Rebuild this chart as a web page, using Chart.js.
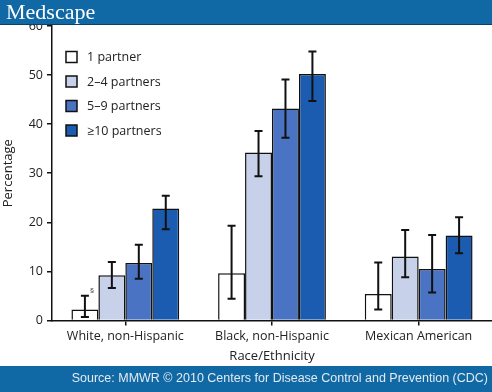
<!DOCTYPE html>
<html><head><meta charset="utf-8">
<script src="https://cdn.jsdelivr.net/npm/chart.js@4.4.0/dist/chart.umd.min.js"></script>
<style>html,body{margin:0;padding:0;background:#fff;}#wrap{width:492px;height:392px;position:relative;}</style>
</head><body><div id="wrap"><canvas id="c" width="492" height="392"></canvas></div>
<script>
const categories = ["White, non-Hispanic", "Black, non-Hispanic", "Mexican American"];
const seriesLabels = ["1 partner", "2\u20134 partners", "5\u20139 partners", "\u226510 partners"];
const onePartner = [2.2, 9.6, 5.4];
const twoToFour = [9.2, 34.2, 13.0];
const fiveToNine = [11.7, 43.2, 10.5];
const tenPlus = [22.8, 50.2, 17.3];
const onePartnerLow = [0.7, 4.4, 2.2];
const onePartnerHigh = [5.0, 19.3, 11.8];
const twoToFourLow = [6.6, 29.4, 8.8];
const twoToFourHigh = [11.9, 38.6, 18.4];
const fiveToNineLow = [8.5, 37.2, 5.7];
const fiveToNineHigh = [15.4, 49.1, 17.4];
const tenPlusLow = [18.6, 44.7, 13.7];
const tenPlusHigh = [25.4, 54.8, 21.0];
const yTicks = [0, 10, 20, 30, 40, 50, 60];
const footnoteMark = "\u00a7";
const colors = ["#ffffff", "#c7d1ea", "#4a74c3", "#1b5cb0"];

const values = [onePartner, twoToFour, fiveToNine, tenPlus];
const lows = [onePartnerLow, twoToFourLow, fiveToNineLow, tenPlusLow];
const highs = [onePartnerHigh, twoToFourHigh, fiveToNineHigh, tenPlusHigh];

const datasets = values.map((v, i) => ({
  label: seriesLabels[i], data: v, backgroundColor: colors[i],
  borderColor: "#111", borderWidth: 1.5, borderSkipped: 'bottom',
  categoryPercentage: 0.735, barPercentage: 1.0
}));

const errorBars = {
  id: 'errorBars',
  afterDatasetsDraw(chart) {
    const ctx = chart.ctx, y = chart.scales.y;
    ctx.save();
    ctx.strokeStyle = "#111"; ctx.lineWidth = 2;
    chart.data.datasets.forEach((ds, di) => {
      chart.getDatasetMeta(di).data.forEach((bar, j) => {
        const x = bar.x, yl = y.getPixelForValue(lows[di][j]), yh = y.getPixelForValue(highs[di][j]);
        ctx.beginPath();
        ctx.moveTo(x, yl); ctx.lineTo(x, yh);
        ctx.moveTo(x - 4, yl); ctx.lineTo(x + 4, yl);
        ctx.moveTo(x - 4, yh); ctx.lineTo(x + 4, yh);
        ctx.stroke();
      });
    });
    const b = chart.getDatasetMeta(0).data[0];
    ctx.fillStyle = "#333"; ctx.font = "8px 'Open Sans'"; ctx.textAlign = "left"; ctx.textBaseline = "middle";
    ctx.fillText(footnoteMark, b.x + 5, y.getPixelForValue(highs[0][0]) - 5);
    ctx.restore();
  }
};

const decor = {
  id: 'decor',
  afterDraw(chart) {
    const ctx = chart.ctx;
    ctx.save();
    const lx = 66, ly0 = 57, gap = 24.5;
    ctx.font = "12.5px 'Open Sans'"; ctx.textBaseline = "middle"; ctx.textAlign = "left";
    chart.data.datasets.forEach((ds, i) => {
      const yy = ly0 + i * gap;
      ctx.fillStyle = ds.backgroundColor; ctx.fillRect(lx, yy - 5.5, 11, 11);
      ctx.strokeStyle = "#111"; ctx.lineWidth = 1.5; ctx.strokeRect(lx, yy - 5.5, 11, 11);
      ctx.fillStyle = "#222"; ctx.fillText(ds.label, 87, yy + 0.5);
    });
    ctx.fillStyle = "#1069a4"; ctx.fillRect(0, 0, 492, 24);
    ctx.fillStyle = "#0a3f66"; ctx.fillRect(0, 24, 492, 1);
    ctx.fillStyle = "#fff"; ctx.font = "22px 'Liberation Serif'"; ctx.textBaseline = "middle";
    ctx.fillText("Medscape", 6, 13);
    ctx.fillStyle = "#1069a4"; ctx.fillRect(0, 366, 492, 26);
    ctx.fillStyle = "#e4eaf1"; ctx.font = "12.5px 'Liberation Sans'"; ctx.textAlign = "right";
    ctx.fillText("Source: MMWR \u00a9 2010 Centers for Disease Control and Prevention (CDC)", 488, 379);
    ctx.restore();
  }
};

new Chart(document.getElementById('c'), {
  type: 'bar',
  data: { labels: categories, datasets },
  options: {
    responsive: false, animation: false,
    layout: { padding: { top: 26, right: 0, left: 0, bottom: 28 } },
    plugins: { legend: { display: false }, tooltip: { enabled: false } },
    scales: {
      x: {
        grid: { display: true, drawOnChartArea: false, drawTicks: true, tickLength: 5, color: "#111", lineWidth: 1.5, offset: false },
        border: { display: true, color: "#111", width: 1.5 },
        ticks: { color: "#222", font: { family: "Open Sans", size: 12.5 }, padding: 4, maxRotation: 0 },
        title: { display: true, text: "Race/Ethnicity", color: "#222", font: { family: "Open Sans", size: 13 }, padding: { top: 0, bottom: 0 } }
      },
      y: {
        min: 0, max: 60,
        afterBuildTicks(s) { s.ticks = yTicks.map(v => ({ value: v })); },
        afterFit(s) { s.width = 52; },
        grid: { display: true, drawOnChartArea: false, drawTicks: true, tickLength: 5, color: "#111", lineWidth: 1.5 },
        border: { display: true, color: "#111", width: 1.5 },
        ticks: { color: "#222", font: { family: "Open Sans", size: 12.5 }, padding: 4 },
        title: { display: true, text: "Percentage", color: "#222", font: { family: "Open Sans", size: 13 }, padding: { top: 0, bottom: 2 } }
      }
    }
  },
  plugins: [errorBars, decor]
});
</script></body></html>
